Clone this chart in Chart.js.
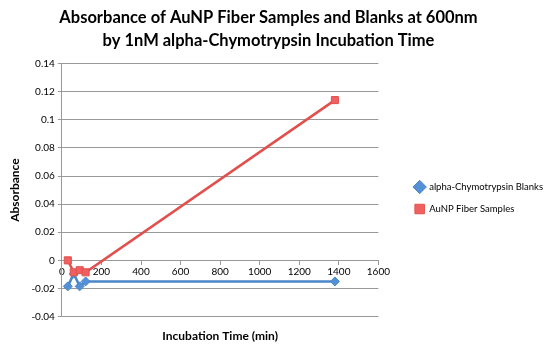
<!DOCTYPE html>
<html>
<head>
<meta charset="utf-8">
<script src="https://cdn.jsdelivr.net/npm/chart.js@4"></script>
<style>
  html, body { margin: 0; padding: 0; background: #fff; }
  #wrap { width: 553px; height: 349px; }
</style>
</head>
<body>
<div id="wrap"><canvas id="myChart" width="553" height="349"></canvas></div>
<script>
// data
var times = [30, 60, 90, 120, 1380];
var blanks = [-0.0185, -0.0095, -0.0185, -0.015, -0.015];
var fibers = [0, -0.0085, -0.007, -0.0085, 0.114];
var seriesNames = ['alpha-Chymotrypsin Blanks', 'AuNP Fiber Samples'];
var titleLines = ['Absorbance of AuNP Fiber Samples and Blanks at 600nm', 'by 1nM alpha-Chymotrypsin Incubation Time'];
var xTicks = [0, 200, 400, 600, 800, 1000, 1200, 1400, 1600];
var yTicks = [-0.04, -0.02, 0, 0.02, 0.04, 0.06, 0.08, 0.1, 0.12, 0.14];

function toPoints(xs, ys) {
    return xs.map(function (x, i) { return { x: x, y: ys[i] }; });
}

// push the legend a bit away from the plot, like the original
var legendShift = {
    id: 'legendShift',
    afterLayout: function (chart) {
        chart.legend.left += 24;
        chart.legend.right += 24;
        chart.legend.top += 2;
        chart.legend.bottom += 2;
    }
};

var ctx = document.getElementById('myChart').getContext('2d');
var myChart = new Chart(ctx, {
    type: 'line',
    data: {
        datasets: [{
            label: seriesNames[0],
            data: toPoints(times, blanks),
            borderColor: 'rgb(74,134,200)',
            backgroundColor: 'rgb(84,144,214)',
            borderWidth: 2.5,
            pointStyle: 'rectRot',
            pointRadius: 4.5,
            pointBorderWidth: 1,
            tension: 0,
            order: 2
        }, {
            label: seriesNames[1],
            data: toPoints(times, fibers),
            borderColor: 'rgb(226,80,78)',
            backgroundColor: 'rgb(240,96,96)',
            borderWidth: 2.5,
            pointStyle: 'rect',
            pointRadius: 5,
            pointBorderWidth: 1,
            tension: 0,
            order: 1
        }]
    },
    plugins: [legendShift],
    options: {
        responsive: false,
        animation: false,
        layout: { padding: { top: 3, right: 24, bottom: 6, left: 8 } },
        plugins: {
            title: {
                display: true,
                text: titleLines,
                color: '#000',
                font: { family: 'Lato', size: 16.5, weight: 'bold', lineHeight: 1.35 },
                padding: { top: 4, bottom: 12 }
            },
            legend: {
                position: 'right',
                maxWidth: 220,
                title: { display: true, text: ' ', padding: 17, font: { size: 10 } },
                labels: {
                    usePointStyle: true,
                    color: '#000',
                    font: { family: 'Lato', size: 9.5 },
                    padding: 12.5,
                    sort: function (a, b) { return a.datasetIndex - b.datasetIndex; }
                }
            },
            tooltip: { enabled: false }
        },
        scales: {
            x: {
                type: 'linear',
                min: xTicks[0],
                max: xTicks[xTicks.length - 1],
                position: { y: 0 },
                afterBuildTicks: function (axis) { axis.ticks = xTicks.map(function (v) { return { value: v }; }); },
                ticks: {
                    color: '#000',
                    font: { family: 'Lato', size: 10 },
                    padding: 1,
                    maxRotation: 0,
                    callback: function (v) { return String(v); }
                },
                grid: { drawOnChartArea: false, tickLength: 4, color: '#999' },
                border: { color: '#999' }
            },
            x2: {
                type: 'linear',
                position: 'bottom',
                min: xTicks[0],
                max: xTicks[xTicks.length - 1],
                ticks: { display: false },
                grid: { display: false },
                border: { display: false },
                title: {
                    display: true,
                    text: 'Incubation Time (min)',
                    color: '#000',
                    font: { family: 'Lato', size: 12, weight: 'bold' },
                    padding: { top: 4, bottom: 0 }
                }
            },
            y: {
                min: yTicks[0],
                max: yTicks[yTicks.length - 1],
                afterBuildTicks: function (axis) { axis.ticks = yTicks.map(function (v) { return { value: v }; }); },
                ticks: {
                    color: '#000',
                    font: { family: 'Lato', size: 10 },
                    callback: function (v) { return String(Number(v.toFixed(2))); }
                },
                grid: { color: '#999', tickLength: 4 },
                border: { color: '#999' },
                title: {
                    display: true,
                    text: 'Absorbance',
                    color: '#000',
                    font: { family: 'Lato', size: 12, weight: 'bold' },
                    padding: { top: 0, bottom: 6 }
                }
            }
        }
    }
});
</script>
</body>
</html>
